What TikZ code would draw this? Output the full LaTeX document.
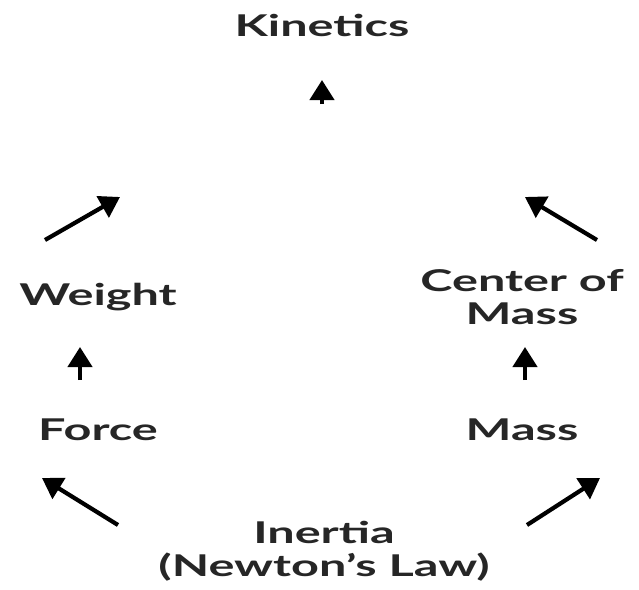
\documentclass[tikz,border=0pt]{standalone}
\usepackage{fontspec}
\setmainfont[FakeStretch=1.62]{Lato}
\usetikzlibrary{arrows.meta}
\begin{document}
\begin{tikzpicture}[x=0.5pt,y=-0.5pt,
  lbl/.style={font=\fontsize{15}{16.5}\selectfont\bfseries, align=center, inner sep=0pt, text=black!85},
  arr/.style={line width=2.1pt, -{Triangle[length=10pt,width=12pt]}}]
\useasboundingbox[fill=white] (0,0) rectangle (639,590);
\node[lbl] (kin) at (322,25) {Kinetics};
\node[lbl] (weight) at (98,297) {Weight};
\node[lbl] (force) at (98,430) {Force};
\node[lbl] (com) at (522,297) {Center of\\Mass};
\node[lbl] (mass) at (522,430) {Mass};
\node[lbl] (inertia) at (324,551) {Inertia\\(Newton's Law)};
% arrow end points
\coordinate (k1) at (322,104);
\coordinate (k2) at (322,80);
\coordinate (w1) at (45,240);
\coordinate (w2) at (120,197);
\coordinate (c1) at (597,240);
\coordinate (c2) at (525,197);
\coordinate (f1) at (80,380);
\coordinate (f2) at (80,347);
\coordinate (m1) at (525,380);
\coordinate (m2) at (525,347);
\coordinate (il1) at (118,525);
\coordinate (il2) at (42,478);
\coordinate (ir1) at (527,525);
\coordinate (ir2) at (600,478);
\draw[arr] (k1) -- (k2);
\draw[arr] (w1) -- (w2);
\draw[arr] (c1) -- (c2);
\draw[arr] (f1) -- (f2);
\draw[arr] (m1) -- (m2);
\draw[arr] (il1) -- (il2);
\draw[arr] (ir1) -- (ir2);
\end{tikzpicture}
\end{document}
